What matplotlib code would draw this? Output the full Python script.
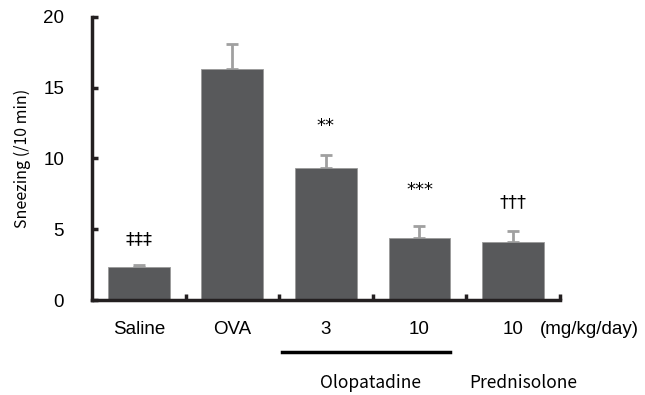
import matplotlib.pyplot as plt
import numpy as np

plt.rcParams['font.family'] = ['Liberation Sans', 'DejaVu Sans']
cjk = ['Noto Sans CJK JP', 'DejaVu Sans']

groups = ['Saline', 'OVA', '3', '10', '10']
sneezing = [2.3, 16.3, 9.35, 4.4, 4.1]
sem = [0.2, 1.8, 0.9, 0.8, 0.8]
marks = ['‡‡‡', '', '**', '***', '†††']
mark_y = [4.3, None, 12.3, 7.8, 6.9]

fig = plt.figure(figsize=(6.45, 3.95), dpi=100)
ax = fig.add_axes([0.1426, 0.2405, 0.7254, 0.7165])

x = np.arange(len(groups))
ax.bar(x, sneezing, width=0.66, color='#58595b', edgecolor='#9a9a9a', linewidth=0.6, zorder=2)
ax.errorbar(x, sneezing, yerr=[np.zeros(len(sem)), sem], fmt='none',
            ecolor='#a0a0a0', elinewidth=2, capsize=4, capthick=2, zorder=1)

for xi, m, my in zip(x, marks, mark_y):
    if m:
        ax.text(xi, my, m, ha='center', va='center', fontsize=13,
                family=['DejaVu Sans'])

ax.set_xlim(-0.5, 4.5)
ax.set_ylim(0, 20)
ax.set_yticks([0, 5, 10, 15, 20])
ax.set_xticks([0.5, 1.5, 2.5, 3.5, 4.5])
ax.set_xticklabels([])
ax.tick_params(axis='both', direction='in', length=4, width=2.5, color='#231f20')
ax.tick_params(axis='y', labelsize=13.5, pad=20)
for t in ax.get_yticklabels():
    t.set_horizontalalignment('right')
for s in ['top', 'right']:
    ax.spines[s].set_visible(False)
for s in ['left', 'bottom']:
    ax.spines[s].set_linewidth(2.5)
    ax.spines[s].set_color('#231f20')

ax.set_ylabel('Sneezing (/10 min)', fontsize=11.5, labelpad=9, family=cjk)

trans = ax.get_xaxis_transform()
for xi, g in zip(x, groups):
    ax.text(xi, -0.105, g, transform=trans, ha='center', va='center', fontsize=13.5, clip_on=False)
ax.text(4.29, -0.105, '(mg/kg/day)', transform=trans, ha='left', va='center', fontsize=13.5, clip_on=False)
ax.plot([1.53, 3.33], [-0.184, -0.184], transform=trans, color='black', lw=2.5, clip_on=False)
ax.text(2.48, -0.293, 'Olopatadine', transform=trans, ha='center', va='center', fontsize=12.5,
        family=cjk, clip_on=False)
ax.text(4.11, -0.293, 'Prednisolone', transform=trans, ha='center', va='center', fontsize=12.5,
        family=cjk, clip_on=False)

fig.savefig('out.png', dpi=100)
